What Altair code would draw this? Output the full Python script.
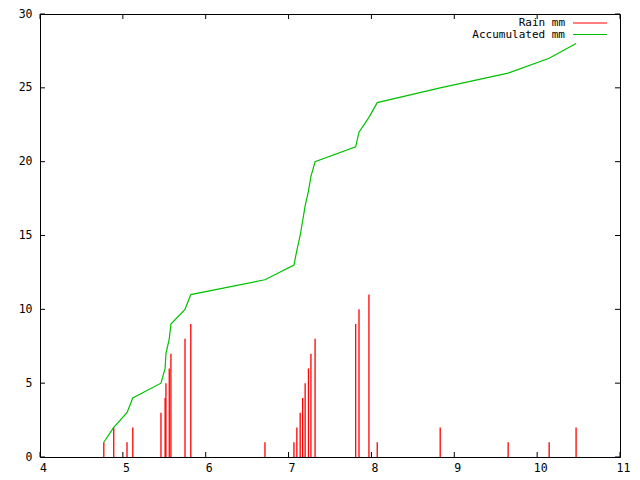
import altair as alt
import pandas as pd

# --- data ---
times = [4.77, 4.89, 5.05, 5.12, 5.46, 5.51, 5.52, 5.56, 5.58, 5.75, 5.82,
         6.715, 7.065, 7.10, 7.14, 7.17, 7.20, 7.24, 7.27, 7.32,
         7.81, 7.85, 7.97, 8.07, 8.83, 9.65, 10.145, 10.47]
rain_mm = [1, 2, 1, 2, 3, 4, 5, 6, 7, 8, 9,
           1, 1, 2, 3, 4, 5, 6, 7, 8,
           9, 10, 11, 1, 2, 1, 1, 2]
accumulated_mm = [1, 2, 3, 4, 5, 6, 7, 8, 9, 10, 11,
                  12, 13, 14, 15, 16, 17, 18, 19, 20,
                  21, 22, 23, 24, 25, 26, 27, 28]
x_ticks = [4, 5, 6, 7, 8, 9, 10, 11]
y_ticks = [0, 5, 10, 15, 20, 25, 30]
series_names = ["Rain mm", "Accumulated mm"]
series_colors = ["#ff0000", "#00c000"]

W, H = 580, 443
FONT = "DejaVu Sans Mono"
FS = 11.5

df = pd.DataFrame({"t": times, "rain": rain_mm, "acc": accumulated_mm})
xt = pd.DataFrame({"v": x_ticks})
yt = pd.DataFrame({"v": y_ticks})

xscale = alt.Scale(domain=[4, 11], nice=False, zero=False)
yscale = alt.Scale(domain=[0, 30], nice=False)

xaxis = alt.Axis(values=x_ticks, format="d", title=None, domain=False, ticks=False, grid=False,
                 labelFont=FONT, labelFontSize=FS, labelColor="black",
                 labelPadding=5, labelOffset=3, labelFlush=False)
yaxis = alt.Axis(values=y_ticks, format="d", title=None, domain=False, ticks=False, grid=False,
                 labelFont=FONT, labelFontSize=FS, labelColor="black",
                 labelPadding=8)

rain = alt.Chart(df).mark_rule(stroke=series_colors[0], strokeWidth=1.3).encode(
    x=alt.X("t:Q", scale=xscale, axis=xaxis),
    y=alt.Y("rain:Q", scale=yscale, axis=yaxis),
    y2=alt.datum(0),
)

acc = alt.Chart(df).mark_line(stroke=series_colors[1], strokeWidth=1.2).encode(
    x=alt.X("t:Q", scale=xscale),
    y=alt.Y("acc:Q", scale=yscale),
)

TL = 5
tick_bottom = alt.Chart(xt).mark_rule(stroke="black").encode(
    x=alt.X("v:Q", scale=xscale), y=alt.value(H), y2=alt.value(H - TL))
tick_top = alt.Chart(xt).mark_rule(stroke="black").encode(
    x=alt.X("v:Q", scale=xscale), y=alt.value(0), y2=alt.value(TL))
tick_left = alt.Chart(yt).mark_rule(stroke="black").encode(
    y=alt.Y("v:Q", scale=yscale), x=alt.value(0), x2=alt.value(TL))
tick_right = alt.Chart(yt).mark_rule(stroke="black").encode(
    y=alt.Y("v:Q", scale=yscale), x=alt.value(W), x2=alt.value(W - TL))

legend_layers = []
for i, (name, col) in enumerate(zip(series_names, series_colors)):
    ly = 9 + 11.5 * i
    legend_layers.append(
        alt.Chart(pd.DataFrame({"name": [name]})).mark_text(
            align="right", baseline="middle", font=FONT, fontSize=11, fill="black"
        ).encode(text="name:N", x=alt.value(525), y=alt.value(ly))
    )
    legend_layers.append(
        alt.Chart(pd.DataFrame({"name": [name]})).mark_rule(stroke=col, strokeWidth=1.2).encode(
            x=alt.value(533), x2=alt.value(567), y=alt.value(ly))
    )

chart = alt.layer(rain, acc, tick_bottom, tick_top, tick_left, tick_right, *legend_layers).properties(
    width=W, height=H,
    autosize=alt.AutoSizeParams(type="none"),
    padding={"left": 32, "top": 6, "right": 12, "bottom": 20},
    background="white",
).configure_view(stroke="black", strokeWidth=1)

chart.save("out.html", embed_options={"renderer": "svg", "actions": False})
